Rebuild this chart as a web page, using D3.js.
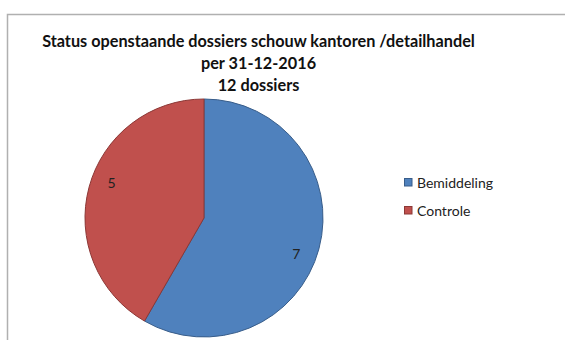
<!DOCTYPE html>
<html>
<head>
<meta charset="utf-8">
<script src="https://cdn.jsdelivr.net/npm/d3@7/dist/d3.min.js"></script>
<style>
  html, body { margin: 0; padding: 0; background: #fff; }
  svg { display: block; }
</style>
</head>
<body>
<svg id="chart" width="565" height="340"></svg>
<script>
// Open dossiers per status
const categories = ["Bemiddeling", "Controle"];
const values = [7, 5];
const colors = ["#4F81BD", "#C0504D"];
const strokes = ["#385D8A", "#8C3836"];
const titleLines = [
  "Status openstaande dossiers schouw kantoren /detailhandel",
  "per 31-12-2016",
  "12 dossiers"
];

const svg = d3.select("#chart");
const W = 565, H = 340;
const FONT = "Lato, 'Open Sans', 'Liberation Sans', sans-serif";

svg.append("rect").attr("width", W).attr("height", H).attr("fill", "#fff");

// chart frame (right and bottom edges fall outside the view)
svg.append("path")
  .attr("d", `M7.5,${H + 2} V14.5 H${W + 2}`)
  .attr("fill", "none")
  .attr("stroke", "#b0b0b0")
  .attr("stroke-width", 1.5);

// title, three centred bold lines
const titleCx = 258.5;
const title = svg.append("g");
const titleText = title.selectAll("text")
  .data(titleLines)
  .join("text")
  .attr("x", 0)
  .attr("y", (d, i) => 47 + i * 22)
  .attr("text-anchor", "middle")
  .attr("font-family", FONT)
  .attr("font-weight", "bold")
  .attr("font-size", 17)
  .attr("fill", "#111")
  .text(d => d);
// squeeze the title horizontally so the first line spans 433px
const w0 = titleText.node().getComputedTextLength();
title.attr("transform", `translate(${titleCx},0) scale(${433 / w0},1)`);

// pie
const cx = 204, cy = 218, r = 119;
const pie = d3.pie().sort(null).value(d => d.value);
const arcs = pie(categories.map((c, i) => ({ name: c, value: values[i], i })));
const arc = d3.arc().innerRadius(0).outerRadius(r);

const g = svg.append("g").attr("transform", `translate(${cx},${cy})`);
g.selectAll("path.slice")
  .data(arcs)
  .join("path")
  .attr("class", "slice")
  .attr("d", arc)
  .attr("fill", d => colors[d.data.i])
  .attr("stroke", d => strokes[d.data.i])
  .attr("stroke-width", 1)
  .attr("stroke-linejoin", "round");

// value labels placed near the inner end of each slice
const labelR = 99;
const labelTurn = 6 * Math.PI / 180;
g.selectAll("text.val")
  .data(arcs)
  .join("text")
  .attr("class", "val")
  .attr("x", d => labelR * Math.sin((d.startAngle + d.endAngle) / 2 + labelTurn))
  .attr("y", d => -labelR * Math.cos((d.startAngle + d.endAngle) / 2 + labelTurn))
  .attr("dy", "0.36em")
  .attr("text-anchor", "middle")
  .attr("font-family", FONT)
  .attr("font-size", 14)
  .attr("fill", "#222")
  .text(d => d.data.value);

// legend
const legend = svg.append("g").attr("transform", "translate(404,178)");
const item = legend.selectAll("g")
  .data(categories)
  .join("g")
  .attr("transform", (d, i) => `translate(0,${i * 28})`);
item.append("rect")
  .attr("x", 0.5).attr("y", 0.5)
  .attr("width", 7.5).attr("height", 7.5)
  .attr("fill", (d, i) => colors[i])
  .attr("stroke", (d, i) => strokes[i])
  .attr("stroke-width", 1);
item.append("text")
  .attr("x", 13)
  .attr("y", 9.5)
  .attr("font-family", FONT)
  .attr("font-size", 14)
  .attr("fill", "#222")
  .text(d => d);
</script>
</body>
</html>
